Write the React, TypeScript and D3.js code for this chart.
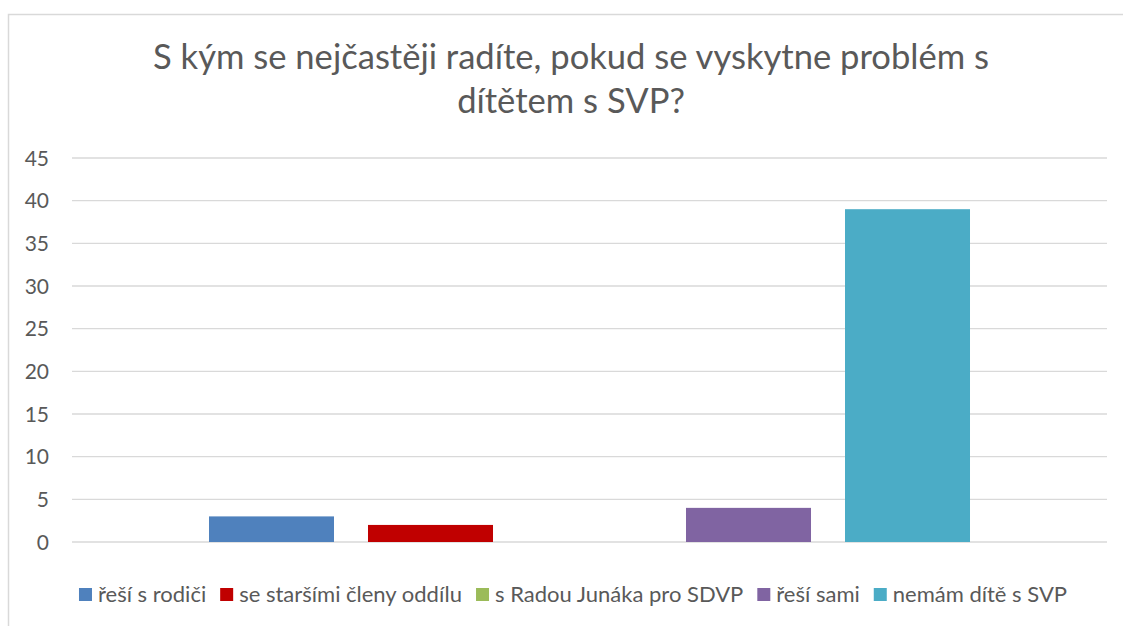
import React, { useEffect, useRef } from 'react';
import * as d3 from 'd3';

const titleLines = ['S kým se nejčastěji radíte, pokud se vyskytne problém s', 'dítětem s SVP?'];
const seriesNames = ['řeší s rodiči', 'se staršími členy oddílu', 's Radou Junáka pro SDVP', 'řeší sami', 'nemám dítě s SVP'];
const seriesValues = [3, 2, 0, 4, 39];
const seriesColors = ['#4F81BD', '#C00000', '#9BBB59', '#8064A2', '#4BACC6'];
const yTicks = [0, 5, 10, 15, 20, 25, 30, 35, 40, 45];

const FONT = 'Lato, "Open Sans", sans-serif';

const App = () => {
  const svgRef = useRef<SVGSVGElement>(null);

  useEffect(() => {
    const width = 1123;
    const height = 626;
    const plot = { left: 72, right: 1107, top: 158, bottom: 542 };

    const svg = d3.select(svgRef.current)
      .attr('width', width)
      .attr('height', height);
    svg.selectAll('*').remove();

    // chart frame (right and bottom edges fall outside the picture)
    svg.append('rect')
      .attr('x', 8.5).attr('y', 14.5)
      .attr('width', 1140).attr('height', 640)
      .attr('fill', '#fff')
      .attr('stroke', '#D9D9D9')
      .attr('stroke-width', 1.5);

    // title
    svg.append('text')
      .attr('text-anchor', 'middle')
      .attr('font-family', FONT)
      .attr('font-size', 34.6)
      .attr('fill', '#595959')
      .selectAll('tspan')
      .data(titleLines)
      .join('tspan')
      .attr('x', 571)
      .attr('y', (d, i) => 69 + i * 44)
      .text(d => d);

    const y = d3.scaleLinear().domain([0, 45]).range([plot.bottom, plot.top]);

    const x = d3.scaleBand<string>()
      .domain(seriesNames)
      .range([plot.left, plot.right])
      .paddingInner(0.2138)
      .paddingOuter(0.8616);

    // gridlines
    svg.append('g')
      .selectAll('line')
      .data(yTicks)
      .join('line')
      .attr('x1', plot.left).attr('x2', plot.right)
      .attr('y1', d => y(d)).attr('y2', d => y(d))
      .attr('stroke', '#D9D9D9')
      .attr('stroke-width', 1.3);

    // y labels
    svg.append('g')
      .selectAll('text')
      .data(yTicks)
      .join('text')
      .attr('x', 49)
      .attr('y', d => y(d))
      .attr('dy', '0.36em')
      .attr('text-anchor', 'end')
      .attr('font-family', FONT)
      .attr('font-size', 21)
      .attr('fill', '#595959')
      .text(d => d);

    // bars
    svg.append('g')
      .selectAll('rect')
      .data(seriesValues)
      .join('rect')
      .attr('x', (d, i) => x(seriesNames[i]) as number)
      .attr('width', x.bandwidth())
      .attr('y', d => y(d))
      .attr('height', d => y(0) - y(d))
      .attr('fill', (d, i) => seriesColors[i]);

    // legend, laid out from measured text widths and centred
    const legend = svg.append('g');
    const items = legend.selectAll('g')
      .data(seriesNames)
      .join('g');
    items.append('rect')
      .attr('width', 13).attr('height', 13)
      .attr('y', 588)
      .attr('fill', (d, i) => seriesColors[i]);
    items.append('text')
      .attr('x', 19)
      .attr('y', 602)
      .attr('font-family', FONT)
      .attr('font-size', 22)
      .attr('fill', '#595959')
      .text(d => d);

    let cx = 0;
    const offsets: number[] = [];
    items.each(function () {
      const t = d3.select(this).select('text').node() as SVGTextElement;
      offsets.push(cx);
      cx += 19 + t.getComputedTextLength() + 14;
    });
    const total = cx - 14;
    const start = 573 - total / 2;
    items.attr('transform', (d, i) => `translate(${start + offsets[i]},0)`);
  }, []);

  return (
    <svg ref={svgRef} style={{ position: 'absolute', left: 0, top: 0, display: 'block' }}></svg>
  );
};

export default App;
